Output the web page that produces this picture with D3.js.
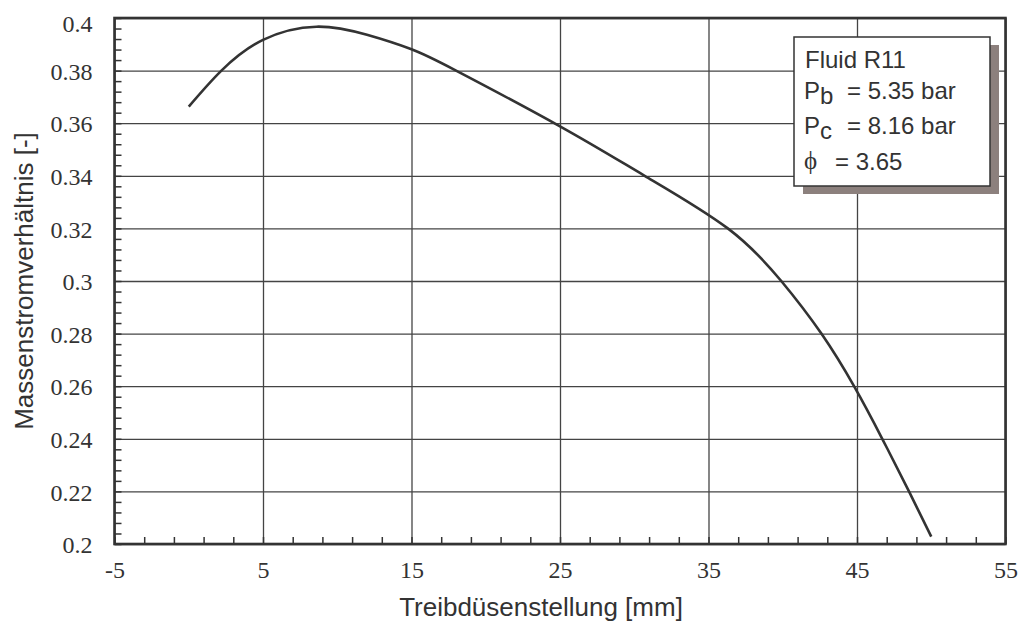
<!DOCTYPE html>
<html>
<head>
<meta charset="utf-8">
<script src="https://cdn.jsdelivr.net/npm/d3@7"></script>
<style>
    body { margin: 0; background: #fff; }
    .serif { font-family: 'Liberation Serif', 'Times New Roman', serif; }
    .sans { font-family: 'Liberation Sans', Arial, Helvetica, sans-serif; }
</style>
</head>
<body>
<div class="canvas"></div>
<script>
//Data
const
    nozzle = [0, 2.2, 5, 8.6, 12, 15, 18, 25, 30.7, 36.3, 39.9, 42.6, 44.8, 46.7, 48.5, 50],
    massRatio = [0.3663, 0.3800, 0.3917, 0.3967, 0.3936, 0.3881, 0.3800, 0.3588, 0.3400, 0.3200, 0.3000, 0.2800, 0.2600, 0.2400, 0.2200, 0.2028],
    xTicks = [-5, 5, 15, 25, 35, 45, 55],
    xMinor = d3.range(-5, 55.01, 2),
    yTicks = [0.2, 0.22, 0.24, 0.26, 0.28, 0.3, 0.32, 0.34, 0.36, 0.38, 0.4],
    yMinor = d3.range(0.2, 0.4001, 0.004),
    xTitle = 'Treibdüsenstellung [mm]',
    yTitle = 'Massenstromverhältnis [-]',
    legendTitle = 'Fluid R11',
    legendRows = [
        { sym: 'P', sub: 'b', rest: '= 5.35 bar' },
        { sym: 'P', sub: 'c', rest: '= 8.16 bar' }
    ],
    legendPhi = '= 3.65';

//SVG Parameters
const
    width = 1020,
    height = 625,
    plotL = 114.5,
    plotR = 1005.5,
    plotT = 18,
    plotB = 544,
    ink = '#333';

const svg = d3.select('.canvas')
    .append('svg')
    .attr('width', width)
    .attr('height', height)
    ;

const xScale = d3.scaleLinear()
    .domain([-5, 55])
    .range([plotL, plotR])
    ;

const yScale = d3.scaleLinear()
    .domain([0.2, 0.4])
    .range([plotB, plotT])
    ;

//Grid
svg.append('g')
    .attr('transform', `translate(0, ${plotB})`)
    .call(d3.axisBottom(xScale).tickValues(xTicks).tickSize(-(plotB - plotT)).tickFormat(''))
    .call(g => g.select('.domain').remove())
    .call(g => g.selectAll('line').attr('stroke', '#444').attr('stroke-width', 1.3))
    ;
svg.append('g')
    .attr('transform', `translate(${plotL}, 0)`)
    .call(d3.axisLeft(yScale).tickValues(yTicks).tickSize(-(plotR - plotL)).tickFormat(''))
    .call(g => g.select('.domain').remove())
    .call(g => g.selectAll('line').attr('stroke', '#444').attr('stroke-width', 1.3))
    ;

//Minor ticks
svg.append('g')
    .attr('transform', `translate(0, ${plotB})`)
    .call(d3.axisBottom(xScale).tickValues(xMinor).tickSize(-7).tickFormat(''))
    .call(g => g.select('.domain').remove())
    .call(g => g.selectAll('line').attr('stroke', ink).attr('stroke-width', 1.5))
    ;
svg.append('g')
    .attr('transform', `translate(${plotL}, 0)`)
    .call(d3.axisLeft(yScale).tickValues(yMinor).tickSize(-7).tickFormat(''))
    .call(g => g.select('.domain').remove())
    .call(g => g.selectAll('line').attr('stroke', ink).attr('stroke-width', 1.5))
    ;

//Frame
svg.append('rect')
    .attr('x', plotL)
    .attr('y', plotT)
    .attr('width', plotR - plotL)
    .attr('height', plotB - plotT)
    .attr('fill', 'none')
    .attr('stroke', ink)
    .attr('stroke-width', 2.6)
    ;

//X-Axis labels
svg.append('g')
    .attr('transform', `translate(0, ${plotB})`)
    .attr('class', 'serif')
    .call(d3.axisBottom(xScale).tickValues(xTicks).tickSize(0).tickFormat(d => String(d)))
    .call(g => g.select('.domain').remove())
    .call(g => g.selectAll('text')
        .attr('y', 34)
        .attr('dy', null)
        .attr('font-size', 24)
        .attr('fill', ink))
    ;

//Y-Axis labels
svg.append('g')
    .attr('transform', `translate(${plotL}, 0)`)
    .attr('class', 'serif')
    .call(d3.axisLeft(yScale).tickValues(yTicks).tickSize(0).tickPadding(22).tickFormat(d => String(+d.toFixed(2))))
    .call(g => g.select('.domain').remove())
    .call(g => g.selectAll('text')
        .attr('dy', d => d === 0.4 ? '0.55em' : '0.36em')
        .attr('font-size', 24)
        .attr('fill', ink))
    ;

//Axis titles
svg.append('text')
    .attr('class', 'sans')
    .attr('x', 541)
    .attr('y', 616)
    .attr('text-anchor', 'middle')
    .attr('font-size', 26)
    .attr('fill', ink)
    .text(xTitle)
    ;
svg.append('text')
    .attr('class', 'sans')
    .attr('transform', `translate(33, ${(plotT + plotB) / 2}) rotate(-90)`)
    .attr('text-anchor', 'middle')
    .attr('font-size', 26)
    .attr('fill', ink)
    .text(yTitle)
    ;

//Curve
const line = d3.line()
    .x(d => xScale(d[0]))
    .y(d => yScale(d[1]))
    .curve(d3.curveNatural)
    ;
svg.append('path')
    .datum(d3.zip(nozzle, massRatio))
    .attr('d', line)
    .attr('fill', 'none')
    .attr('stroke', ink)
    .attr('stroke-width', 2.6)
    ;

//Legend
const legend = svg.append('g').attr('class', 'sans');
legend.append('rect')
    .attr('x', 803)
    .attr('y', 45)
    .attr('width', 196)
    .attr('height', 149)
    .attr('fill', '#8c807d')
    ;
legend.append('rect')
    .attr('x', 794)
    .attr('y', 37)
    .attr('width', 196)
    .attr('height', 149)
    .attr('fill', '#fff')
    .attr('stroke', ink)
    .attr('stroke-width', 1.5)
    ;
legend.append('text')
    .attr('x', 805)
    .attr('y', 68)
    .attr('font-size', 24)
    .attr('fill', ink)
    .text(legendTitle)
    ;
legendRows.forEach((row, i) => {
    const y = 98.5 + i * 35;
    const t = legend.append('text')
        .attr('x', 804)
        .attr('y', y)
        .attr('font-size', 24)
        .attr('fill', ink)
        ;
    t.append('tspan').text(row.sym);
    t.append('tspan').attr('dy', 5).text(row.sub);
    legend.append('text')
        .attr('x', 847)
        .attr('y', y)
        .attr('font-size', 24)
        .attr('fill', ink)
        .text(row.rest)
        ;
});
legend.append('text')
    .attr('class', 'serif')
    .attr('x', 804)
    .attr('y', 169)
    .attr('font-size', 25)
    .attr('fill', ink)
    .text('\u03D5')
    ;
legend.append('text')
    .attr('x', 835)
    .attr('y', 170)
    .attr('font-size', 24)
    .attr('fill', ink)
    .text(legendPhi)
    ;
</script>
</body>
</html>
